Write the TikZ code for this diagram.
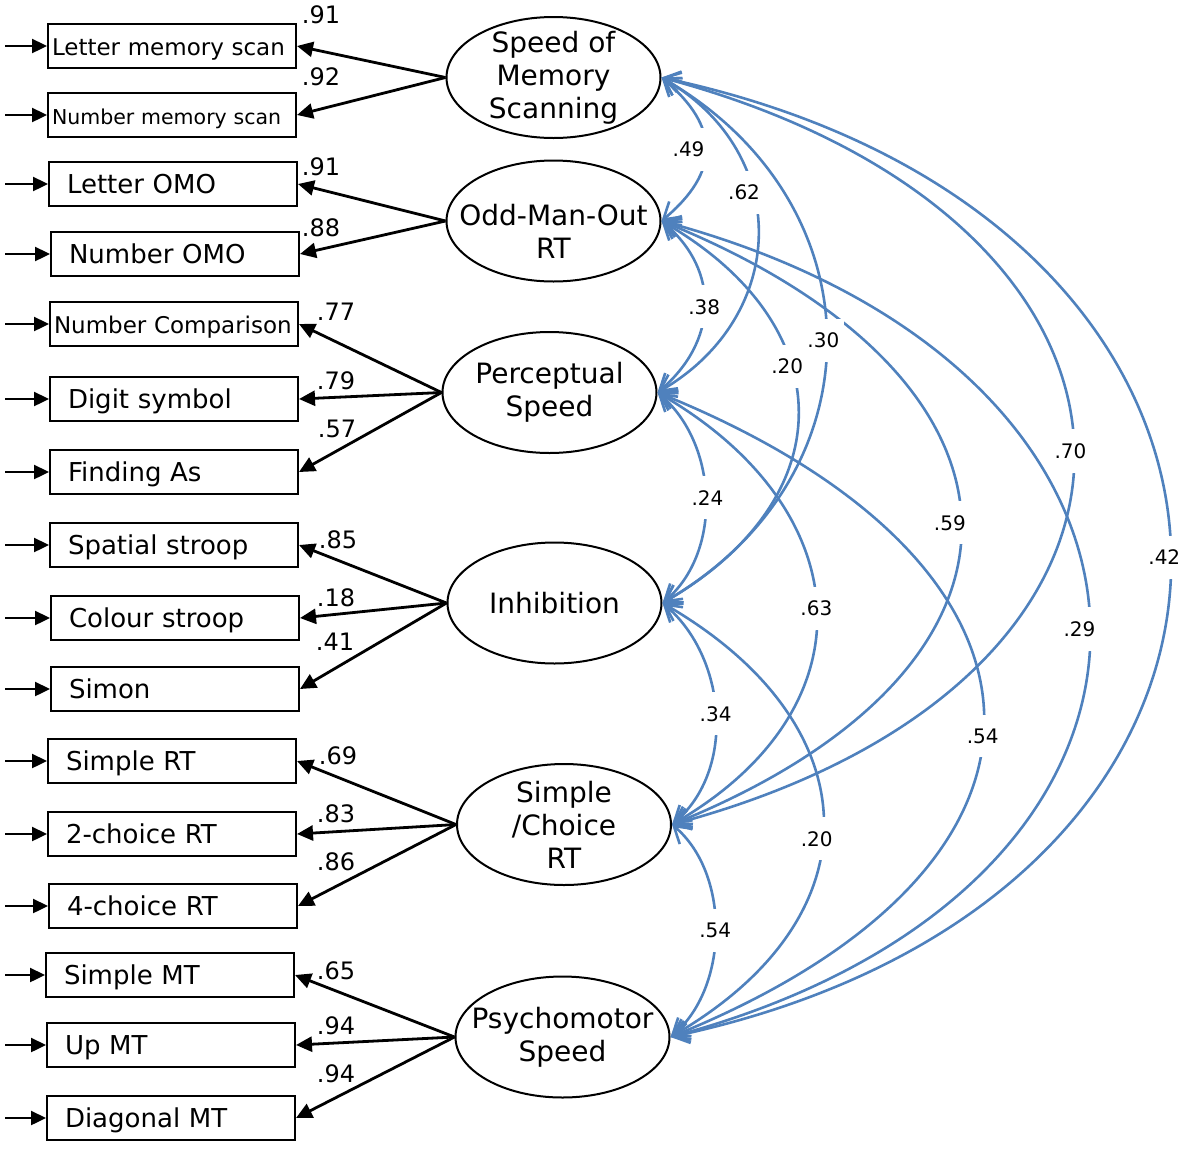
\documentclass[tikz,border=0pt]{standalone}
\usepackage{fontspec}
\setmainfont{DejaVu Sans}
\usetikzlibrary{shapes.geometric,arrows.meta}
\definecolor{covblue}{HTML}{4F81BD}

\begin{document}
\begin{tikzpicture}[x=1pt,y=1pt,
  obs/.style={draw, line width=2pt, anchor=west, minimum height=44pt, inner xsep=18pt, inner ysep=2pt, text width=212pt, align=left, text height=25pt, text depth=6pt, font=\fontsize{26pt}{30pt}\selectfont},
  obsn/.style={obs, inner xsep=4pt, text width=240pt},
  factor/.style={draw, ellipse, line width=2pt, minimum width=214pt, minimum height=121pt, inner sep=0pt},
  ftxt/.style={align=center, inner sep=0pt, font=\fontsize{28pt}{33pt}\selectfont},
  load/.style={line width=2.8pt, -{Triangle[length=16pt,width=15pt]}},
  err/.style={line width=2.4pt, -{Triangle[length=15pt,width=14pt]}},
  cov/.style={covblue, line width=2.6pt, {Straight Barb[length=16pt,width=20pt]}-{Straight Barb[length=16pt,width=20pt]}},
  wt/.style={inner sep=0pt, font=\fontsize{24pt}{28pt}\selectfont},
  ct/.style={fill=white, inner xsep=5pt, inner ysep=14pt, font=\fontsize{20pt}{24pt}\selectfont}]
\useasboundingbox (0,0) rectangle (1200,-1149);

% observed measures
\node[obsn, font=\fontsize{23pt}{27pt}\selectfont] (b1) at (47,-46) {Letter memory scan};
\node[obsn, font=\fontsize{20.5pt}{24pt}\selectfont] (b2) at (47,-115) {Number memory scan};
\node[obs] (b3) at (48,-184) {Letter OMO};
\node[obs] (b4) at (50,-254) {Number OMO};
\node[obsn, font=\fontsize{23pt}{27pt}\selectfont] (b5) at (49,-324) {Number Comparison};
\node[obs] (b6) at (49,-399) {Digit symbol};
\node[obs] (b7) at (49,-472) {Finding As};
\node[obs] (b8) at (49,-545) {Spatial stroop};
\node[obs] (b9) at (50,-618) {Colour stroop};
\node[obs] (b10) at (50,-689) {Simon};
\node[obs] (b11) at (47,-761) {Simple RT};
\node[obs] (b12) at (47,-834) {2-choice RT};
\node[obs] (b13) at (48,-906) {4-choice RT};
\node[obs] (b14) at (45,-975) {Simple MT};
\node[obs] (b15) at (46,-1045) {Up MT};
\node[obs] (b16) at (46,-1118) {Diagonal MT};

% latent factors
\node[factor] (f1) at (553.5,-77.5) {};
\node[ftxt] (t1) at (f1) {Speed of\\Memory\\Scanning};
\node[factor] (f2) at (553.5,-221) {};
\node[ftxt] (t2) at (553.5,-231) {Odd-Man-Out\\RT};
\node[factor] (f3) at (549.5,-392.5) {};
\node[ftxt] (t3) at (f3) {Perceptual\\Speed};
\node[factor] (f4) at (554.5,-603) {};
\node[ftxt] (t4) at (f4) {Inhibition};
\node[factor] (f5) at (564,-824.5) {};
\node[ftxt] (t5) at (f5) {Simple\\/Choice\\RT};
\node[factor] (f6) at (562.5,-1037) {};
\node[ftxt] (t6) at (f6) {Psychomotor\\Speed};

% error terms
\coordinate (ex) at (5,0);
\foreach \i in {1,...,16}
  \draw[err] (b\i.west -| ex) -- (b\i.west);

% loadings
\foreach \f/\b in {f1/b1,f1/b2,f2/b3,f2/b4,f3/b5,f3/b6,f3/b7,f4/b8,f4/b9,f4/b10,f5/b11,f5/b12,f5/b13,f6/b14,f6/b15,f6/b16}
  \draw[load] (\f.west) -- (\b.east);

\node[wt] (w1) at (321,-15) {.91};
\node[wt] (w2) at (321,-77) {.92};
\node[wt] (w3) at (321,-167) {.91};
\node[wt] (w4) at (321,-228) {.88};
\node[wt] (w5) at (336,-312) {.77};
\node[wt] (w6) at (336,-381) {.79};
\node[wt] (w7) at (337,-429) {.57};
\node[wt] (w8) at (338,-540) {.85};
\node[wt] (w9) at (336,-598) {.18};
\node[wt] (w10) at (335,-642) {.41};
\node[wt] (w11) at (338,-756) {.69};
\node[wt] (w12) at (336,-814) {.83};
\node[wt] (w13) at (336,-862) {.86};
\node[wt] (w14) at (336,-971) {.65};
\node[wt] (w15) at (336,-1026) {.94};
\node[wt] (w16) at (336,-1074) {.94};

% correlations
\draw[cov] (f1.east) to[out=-40,in=40,looseness=1.37] coordinate[pos=.5] (m12) (f2.east);
\draw[cov] (f2.east) to[out=-40,in=40,looseness=1.16] coordinate[pos=.5] (m23) (f3.east);
\draw[cov] (f3.east) to[out=-40,in=40,looseness=0.96] coordinate[pos=.5] (m34) (f4.east);
\draw[cov] (f4.east) to[out=-40,in=40,looseness=0.97] coordinate[pos=.5] (m45) (f5.east);
\draw[cov] (f5.east) to[out=-40,in=40,looseness=0.92] coordinate[pos=.5] (m56) (f6.east);
\draw[cov] (f1.east) to[out=-30,in=30,looseness=1.23] coordinate[pos=.38] (m13) (f3.east);
\draw[cov] (f2.east) to[out=-30,in=30,looseness=1.40] coordinate[pos=.39] (m24) (f4.east);
\draw[cov] (f3.east) to[out=-30,in=30,looseness=1.38] coordinate[pos=.5] (m35) (f5.east);
\draw[cov] (f4.east) to[out=-30,in=30,looseness=1.42] coordinate[pos=.54] (m46) (f6.east);
\draw[cov] (f1.east) to[out=-30,in=30,looseness=1.23] coordinate[pos=.5] (m14) (f4.east);
\draw[cov] (f2.east) to[out=-22,in=22,looseness=1.79] coordinate[pos=.5] (m25) (f5.east);
\draw[cov] (f3.east) to[out=-22,in=22,looseness=1.82] coordinate[pos=.53] (m36) (f6.east);
\draw[cov] (f1.east) to[out=-15,in=15,looseness=1.92] coordinate[pos=.5] (m15) (f5.east);
\draw[cov] (f2.east) to[out=-15,in=15,looseness=1.83] coordinate[pos=.5] (m26) (f6.east);
\draw[cov] (f1.east) to[out=-12,in=12,looseness=1.83] coordinate[pos=.5] (m16) (f6.east);

\node[ct] (c12) at ([xshift=-17pt]m12) {.49};
\node[ct] (c23) at (m23) {.38};
\node[ct] (c34) at ([xshift=2pt]m34) {.24};
\node[ct] (c45) at (m45) {.34};
\node[ct] (c56) at (m56) {.54};
\node[ct] (c13) at ([xshift=-9pt]m13) {.62};
\node[ct] (c24) at ([xshift=-4pt]m24) {.20};
\node[ct] (c35) at (m35) {.63};
\node[ct] (c46) at ([xshift=-6pt]m46) {.20};
\node[ct] (c14) at ([xshift=-3pt]m14) {.30};
\node[ct] (c25) at ([xshift=-11pt]m25) {.59};
\node[ct] (c36) at (m36) {.54};
\node[ct] (c15) at ([xshift=-3pt]m15) {.70};
\node[ct] (c26) at ([xshift=-10pt]m26) {.29};
\node[ct] (c16) at ([xshift=-6pt]m16) {.42};
\end{tikzpicture}
\end{document}
